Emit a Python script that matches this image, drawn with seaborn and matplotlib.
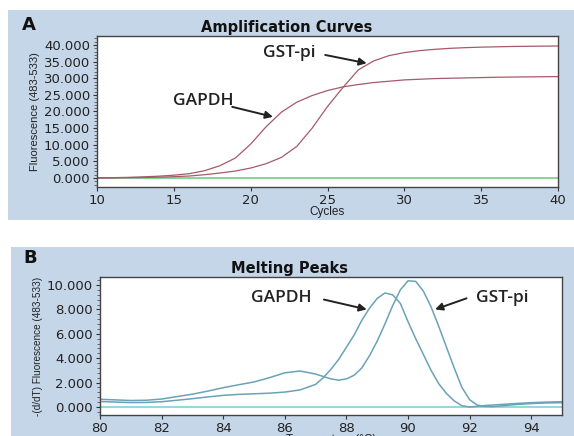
import matplotlib

matplotlib.use("Agg")
import matplotlib.pyplot as plt
import seaborn as sns
from matplotlib.patches import Rectangle
from matplotlib.ticker import AutoMinorLocator, FuncFormatter

# Panel A: amplification curves (fluorescence, in thousands)
cycles = list(range(10, 41))
gapdh_amp = [0.05, 0.1, 0.2, 0.35, 0.55, 0.85, 1.3, 2.2, 3.7, 6.0, 10.2, 15.4, 19.8, 22.8, 24.8,
             26.3, 27.4, 28.1, 28.7, 29.1, 29.5, 29.7, 29.9, 30.0, 30.1, 30.2, 30.3, 30.35, 30.4,
             30.45, 30.5]
gst_amp = [0.0, 0.05, 0.1, 0.15, 0.25, 0.4, 0.6, 1.0, 1.5, 2.1, 3.0, 4.3, 6.2, 9.5, 15.0, 21.5,
           27.2, 32.5, 35.2, 36.8, 37.7, 38.3, 38.7, 39.0, 39.2, 39.35, 39.45, 39.55, 39.6,
           39.65, 39.7]
amp_baseline = [0.0] * len(cycles)

# Panel B: melting peaks (-dF/dT)
temps = [80.0, 80.5, 81.0, 81.5, 82.0, 82.5, 83.0, 83.5, 84.0, 84.5, 85.0, 85.5, 86.0, 86.5,
         87.0, 87.25, 87.5, 87.75, 88.0, 88.25, 88.5, 88.75, 89.0, 89.25, 89.5, 89.75, 90.0,
         90.25, 90.5, 90.75, 91.0, 91.25, 91.5, 91.75, 92.0, 92.25, 92.5, 92.75, 93.0, 93.5,
         94.0, 94.5, 95.0]
gapdh_melt = [0.45, 0.4, 0.36, 0.37, 0.43, 0.55, 0.68, 0.82, 0.95, 1.03, 1.08, 1.13, 1.22, 1.4,
              1.85, 2.4, 3.1, 3.9, 4.9, 5.9, 7.1, 8.1, 8.9, 9.35, 9.2, 8.5, 7.0, 5.6, 4.3, 3.0,
              1.9, 1.1, 0.5, 0.1, 0.0, 0.05, 0.12, 0.16, 0.2, 0.28, 0.35, 0.4, 0.43]
gst_melt = [0.63, 0.58, 0.53, 0.55, 0.65, 0.85, 1.05, 1.3, 1.58, 1.82, 2.05, 2.4, 2.8, 2.95,
            2.7, 2.5, 2.3, 2.2, 2.3, 2.6, 3.2, 4.2, 5.4, 6.8, 8.3, 9.6, 10.35, 10.3, 9.5, 8.2,
            6.6, 4.9, 3.2, 1.6, 0.6, 0.15, 0.05, 0.03, 0.08, 0.2, 0.28, 0.33, 0.35]
melt_baseline = [0.0] * len(temps)

amp_yticks = [0, 5, 10, 15, 20, 25, 30, 35, 40]
melt_yticks = [0, 2, 4, 6, 8, 10]

PANEL_BG = "#c4d6e8"
AMP_COLOR = "#a65a68"
MELT_COLOR = "#6aa2b8"
INK = "#222222"

sns.set_theme(style="ticks")
plt.rcParams["font.family"] = ["DejaVu Sans"]

fig = plt.figure(figsize=(5.74, 4.36), dpi=100)
W, H = 574, 436


def px_axes(left, top, right, bottom):
    ax = fig.add_axes([left / W, 1 - bottom / H, (right - left) / W, (bottom - top) / H])
    ax.set_zorder(2)
    return ax


for x0, y0, h in [(8, 220, 210), (11, 436, 189)]:
    fig.add_artist(Rectangle((x0 / W, 1 - y0 / H), 1, h / H, transform=fig.transFigure,
                             facecolor=PANEL_BG, edgecolor="none", zorder=-5))

fmt = FuncFormatter(lambda v, _: f"{v:.3f}")


def style_axes(ax):
    ax.set_facecolor("white")
    for s in ax.spines.values():
        s.set_color("#444444")
        s.set_linewidth(1.0)
    ax.tick_params(axis="both", labelsize=9.5, colors="#333333", labelcolor=INK,
                   length=3, width=0.8, pad=2)
    ax.tick_params(axis="y", which="minor", length=2, width=0.6, colors="#555555")
    ax.yaxis.set_minor_locator(AutoMinorLocator(5))
    ax.yaxis.set_major_formatter(fmt)


def label_arrow(ax, text, text_xy, start, end):
    ax.text(*text_xy, text, family="Open Sans", fontweight="semibold", fontsize=12.5,
            color=INK, ha="center", va="center")
    ax.annotate("", xy=end, xytext=start,
                arrowprops=dict(arrowstyle="-|>", color=INK, lw=1.4,
                                shrinkA=0, shrinkB=0, mutation_scale=11))


# ---- Panel A ----
ax1 = px_axes(97, 36, 558, 187)
sns.lineplot(x=cycles, y=amp_baseline, ax=ax1, color="#6fcf80", linewidth=1.2)
sns.lineplot(x=cycles, y=gapdh_amp, ax=ax1, color=AMP_COLOR, linewidth=0.9)
sns.lineplot(x=cycles, y=gst_amp, ax=ax1, color=AMP_COLOR, linewidth=0.9)
ax1.set_xlim(10, 40)
ax1.set_ylim(-2.7, 42.7)
ax1.set_xticks([10, 15, 20, 25, 30, 35, 40])
ax1.set_yticks(amp_yticks)
style_axes(ax1)
ax1.set_xlabel("Cycles", family="Liberation Sans", fontsize=8.5, color=INK, labelpad=-1)
ax1.set_ylabel("Fluorescence (483-533)", family="Liberation Sans", fontsize=8,
               color=INK, labelpad=3)
ax1.set_title("Amplification Curves", fontsize=10.5, fontweight="bold", color="#111111",
              pad=3, x=0.412)

label_arrow(ax1, "GAPDH", (16.9, 23.2), (18.8, 21.4), (21.45, 18.4))
label_arrow(ax1, "GST-pi", (22.5, 37.6), (24.85, 37.0), (27.55, 34.5))

# ---- Panel B ----
ax2 = px_axes(100, 277, 562, 415)
sns.lineplot(x=temps, y=melt_baseline, ax=ax2, color="#7fd3d3", linewidth=1.2)
sns.lineplot(x=temps, y=gapdh_melt, ax=ax2, color=MELT_COLOR, linewidth=1.1)
sns.lineplot(x=temps, y=gst_melt, ax=ax2, color=MELT_COLOR, linewidth=1.1)
ax2.set_xlim(80, 95)
ax2.set_ylim(-0.66, 10.66)
ax2.set_xticks([80, 82, 84, 86, 88, 90, 92, 94])
ax2.set_yticks(melt_yticks)
style_axes(ax2)
ax2.set_xlabel("Temperature (°C)", family="Liberation Sans", fontsize=8.5, color=INK,
               labelpad=-1)
ax2.set_ylabel("-(d/dT) Fluorescence (483-533)", family="Liberation Sans", fontsize=7.2,
               color=INK, labelpad=3)
ax2.set_title("Melting Peaks", fontsize=10.5, fontweight="bold", color="#111111",
              pad=3, x=0.411)

label_arrow(ax2, "GAPDH", (85.9, 8.93), (87.27, 8.81), (88.66, 8.0))
label_arrow(ax2, "GST-pi", (93.05, 8.93), (91.9, 8.91), (90.88, 8.0))

fig.text(22 / W, 1 - 25 / H, "A", fontsize=13, fontweight="bold", color="#111111",
         ha="left", va="center")
fig.text(23 / W, 1 - 258 / H, "B", fontsize=13, fontweight="bold", color="#111111",
         ha="left", va="center")

fig.savefig("out.png", dpi=100)
plt.close(fig)
